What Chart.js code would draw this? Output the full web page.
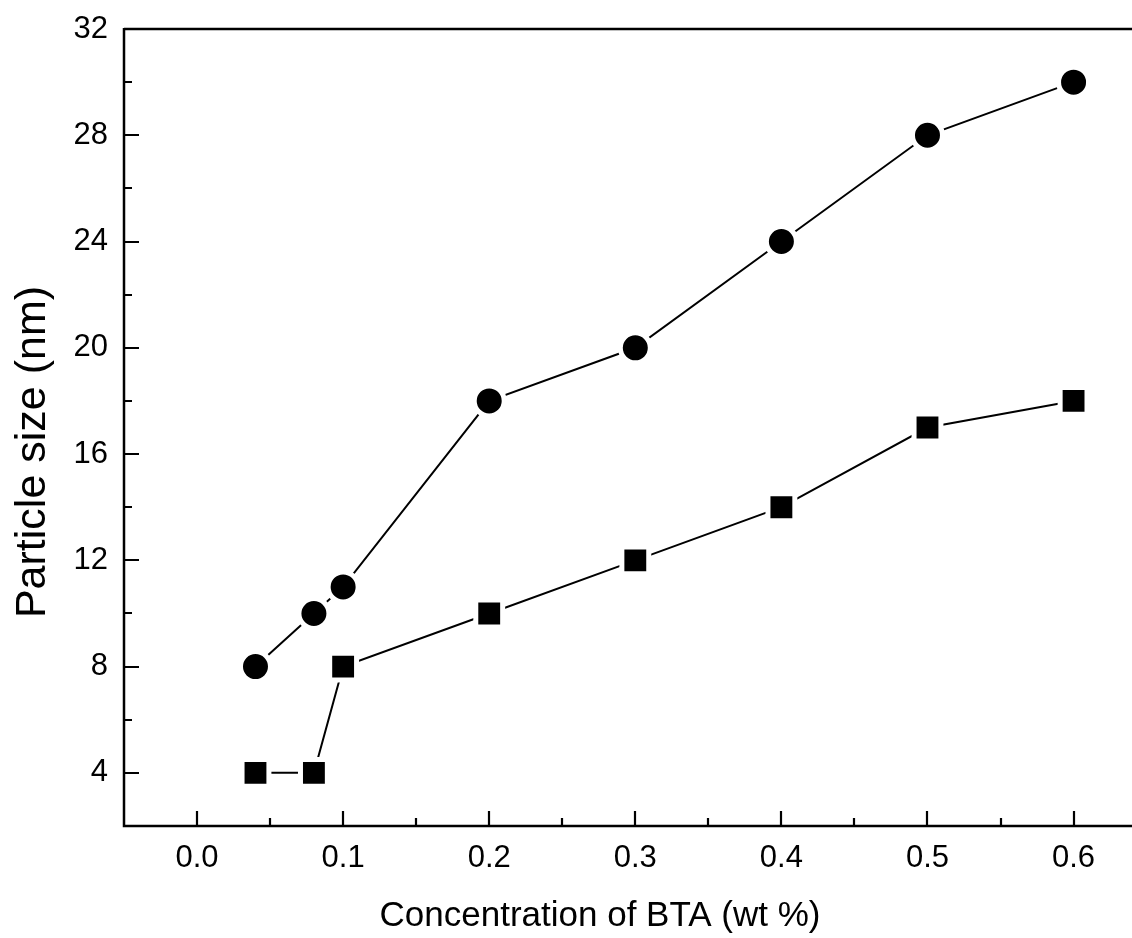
<!DOCTYPE html>
<html lang="en">
<head>
  <meta charset="UTF-8">
  <title>Particle size vs BTA concentration</title>
  <script src="https://cdn.jsdelivr.net/npm/chart.js"></script>
  <style>
    html, body { margin: 0; padding: 0; background: #fff; overflow: hidden; }
    #wrap { width: 1132px; height: 938px; }
  </style>
</head>
<body>
  <div id="wrap"><canvas id="myChart"></canvas></div>

  <script>
    // data
    const concentration = [0.04, 0.08, 0.1, 0.2, 0.3, 0.4, 0.5, 0.6];
    const circleSize = [8, 10, 11, 18, 20, 24, 28, 30];
    const squareSize = [4, 4, 8, 10, 12, 14, 17, 18];

    const xTicks = [0.0, 0.1, 0.2, 0.3, 0.4, 0.5, 0.6];
    const xMinor = [0.05, 0.15, 0.25, 0.35, 0.45, 0.55];
    const yTicks = [4, 8, 12, 16, 20, 24, 28, 32];
    const yMinor = [2, 6, 10, 14, 18, 22, 26, 30];

    const xTitle = 'Concentration of BTA (wt %)';
    const yTitle = 'Particle size (nm)';

    const FONT = 'Liberation Sans, Arial, Helvetica, sans-serif';

    const toPoints = ys => concentration.map((x, i) => ({ x: x, y: ys[i] }));

    // axis lines + inward ticks + axis titles, Origin style
    const frame = {
      id: 'frame',
      afterDraw(chart) {
        const ctx = chart.ctx;
        const a = chart.chartArea;
        const xs = chart.scales.x, ys = chart.scales.y;
        ctx.save();
        ctx.strokeStyle = '#000';
        ctx.lineWidth = 2.5;
        ctx.lineCap = 'butt';
        ctx.beginPath();
        ctx.moveTo(a.left, a.top); ctx.lineTo(chart.width, a.top);
        ctx.moveTo(a.left, a.top - 1); ctx.lineTo(a.left, a.bottom);
        ctx.lineTo(chart.width, a.bottom);
        ctx.stroke();

        ctx.lineWidth = 2.2;
        ctx.beginPath();
        xTicks.forEach(v => {
          const px = Math.round(xs.getPixelForValue(v));
          ctx.moveTo(px, a.bottom); ctx.lineTo(px, a.bottom - 15);
        });
        xMinor.forEach(v => {
          const px = Math.round(xs.getPixelForValue(v));
          ctx.moveTo(px, a.bottom); ctx.lineTo(px, a.bottom - 8);
        });
        yTicks.forEach(v => {
          const py = Math.round(ys.getPixelForValue(v));
          ctx.moveTo(a.left, py); ctx.lineTo(a.left + 15, py);
        });
        yMinor.forEach(v => {
          const py = Math.round(ys.getPixelForValue(v));
          ctx.moveTo(a.left, py); ctx.lineTo(a.left + 8, py);
        });
        ctx.stroke();

        // titles
        ctx.fillStyle = '#000';
        ctx.textAlign = 'center';
        ctx.textBaseline = 'middle';
        ctx.font = '35px ' + FONT;
        ctx.fillText(xTitle, 600, 916);
        ctx.translate(33, 452);
        ctx.rotate(-Math.PI / 2);
        ctx.font = '43px ' + FONT;
        ctx.fillText(yTitle, 0, 0);
        ctx.restore();
      }
    };

    const ctx = document.getElementById('myChart').getContext('2d');
    new Chart(ctx, {
      type: 'line',
      data: {
        datasets: [
          {
            label: 'circle',
            data: toPoints(circleSize),
            borderColor: '#000',
            borderWidth: 2,
            pointStyle: 'circle',
            pointRadius: 15,
            pointBackgroundColor: '#000',
            pointBorderColor: '#fff',
            pointBorderWidth: 5,
            tension: 0
          },
          {
            label: 'square',
            data: toPoints(squareSize),
            borderColor: '#000',
            borderWidth: 2,
            pointStyle: 'rect',
            pointRadius: 19,
            pointBackgroundColor: '#000',
            pointBorderColor: '#fff',
            pointBorderWidth: 5,
            tension: 0
          }
        ]
      },
      options: {
        responsive: true,
        maintainAspectRatio: false,
        animation: false,
        clip: false,
        layout: { autoPadding: false, padding: { top: 29, right: 0, left: 0, bottom: 0 } },
        plugins: {
          legend: { display: false },
          tooltip: { enabled: false }
        },
        scales: {
          x: {
            type: 'linear',
            min: -0.05,
            max: 0.64,
            afterBuildTicks: s => { s.ticks = xTicks.map(v => ({ value: v })); },
            afterFit: s => { s.height = 112; s.paddingLeft = 0; s.paddingRight = 0; },
            grid: { display: false, drawTicks: false },
            border: { display: false },
            ticks: {
              padding: 14,
              color: '#000',
              maxRotation: 0,
              font: { family: FONT, size: 31 },
              callback: v => v.toFixed(1)
            }
          },
          y: {
            min: 2,
            max: 32,
            afterBuildTicks: s => { s.ticks = yTicks.map(v => ({ value: v })); },
            afterFit: s => { s.width = 124; s.paddingTop = 0; s.paddingBottom = 0; },
            grid: { display: false, drawTicks: false },
            border: { display: false },
            ticks: {
              padding: 16,
              color: '#000',
              font: { family: FONT, size: 31 }
            }
          }
        }
      },
      plugins: [frame]
    });
  </script>
</body>
</html>
